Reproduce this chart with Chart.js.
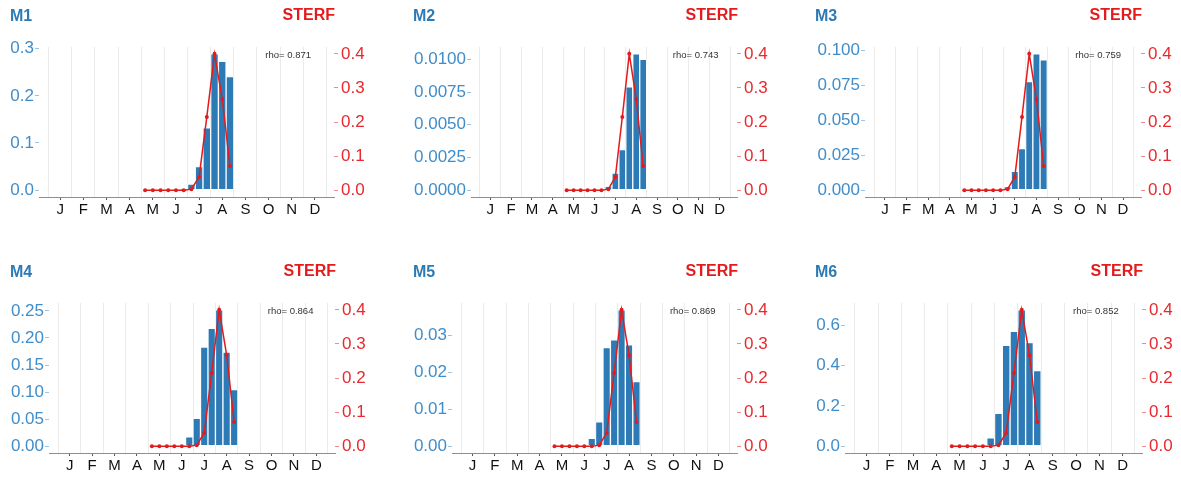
<!DOCTYPE html>
<html>
<head>
<meta charset="utf-8">
<script src="https://cdn.jsdelivr.net/npm/chart.js@4/dist/chart.umd.min.js"></script>
<style>
  html, body { margin: 0; padding: 0; background: #fff; overflow: hidden; width: 1181px; height: 477px; }
  canvas { position: absolute; }
</style>
</head>
<body>
<script>
// month letters on the x axis
const months = ['J', 'F', 'M', 'A', 'M', 'J', 'J', 'A', 'S', 'O', 'N', 'D'];

// dekads (10-day periods), early May to late August
const dekadMonth = [4, 4, 4, 5, 5, 5, 6, 6, 6, 7, 7, 7];
const dekadPart  = [1, 2, 3, 1, 2, 3, 1, 2, 3, 1, 2, 3];

// observed series (right axis, red)
const sterf = [0, 0, 0, 0, 0, 0, 0.003, 0.039, 0.215, 0.4, 0.267, 0.071];

// model series (left axis, blue bars)
const m1 = [0, 0, 0, 0, 0, 0.003, 0.013, 0.05, 0.132, 0.289, 0.273, 0.241];
const m2 = [0, 0, 0, 0, 0, 0, 0.0003, 0.0013, 0.0031, 0.0079, 0.01043, 0.0100];
const m3 = [0, 0, 0, 0, 0, 0, 0.0026, 0.0134, 0.0298, 0.0775, 0.0974, 0.0931];
const m4 = [0, 0, 0, 0, 0, 0.0172, 0.0516, 0.183, 0.218, 0.252, 0.174, 0.1044];
const m5 = [0, 0, 0, 0, 0, 0.0021, 0.0066, 0.0267, 0.0288, 0.0369, 0.0274, 0.0175];
const m6 = [0, 0, 0, 0, 0, 0.041, 0.163, 0.5, 0.569, 0.676, 0.513, 0.375];

const rhoValues = ['0.871', '0.743', '0.759', '0.864', '0.869', '0.852'];

// tick values / labels
const m1Ticks = [0, 0.1, 0.2, 0.3];
const m1Labels = ['0.0', '0.1', '0.2', '0.3'];
const m2Ticks = [0, 0.0025, 0.005, 0.0075, 0.01];
const m2Labels = ['0.0000', '0.0025', '0.0050', '0.0075', '0.0100'];
const m3Ticks = [0, 0.025, 0.05, 0.075, 0.1];
const m3Labels = ['0.000', '0.025', '0.050', '0.075', '0.100'];
const m4Ticks = [0, 0.05, 0.1, 0.15, 0.2, 0.25];
const m4Labels = ['0.00', '0.05', '0.10', '0.15', '0.20', '0.25'];
const m5Ticks = [0, 0.01, 0.02, 0.03];
const m5Labels = ['0.00', '0.01', '0.02', '0.03'];
const m6Ticks = [0, 0.2, 0.4, 0.6];
const m6Labels = ['0.0', '0.2', '0.4', '0.6'];
const sterfTicks = [0, 0.1, 0.2, 0.3, 0.4];
const sterfLabels = ['0.0', '0.1', '0.2', '0.3', '0.4'];

const BLUE = '#2c7bb6', BLUE_TXT = '#3f8dca', RED = '#e41a1c', RED_TXT = '#e8292f';
const FONT = "'Liberation Sans', Arial, sans-serif";

const panels = [
  { name: 'M1', vals: m1, ticks: m1Ticks, labels: m1Labels, rho: rhoValues[0], left: 10,  top: 0,   plotLeft: 39,  plotRight: 334 },
  { name: 'M2', vals: m2, ticks: m2Ticks, labels: m2Labels, rho: rhoValues[1], left: 413, top: 0,   plotLeft: 471, plotRight: 737 },
  { name: 'M3', vals: m3, ticks: m3Ticks, labels: m3Labels, rho: rhoValues[2], left: 815, top: 0,   plotLeft: 865, plotRight: 1141 },
  { name: 'M4', vals: m4, ticks: m4Ticks, labels: m4Labels, rho: rhoValues[3], left: 10,  top: 256, plotLeft: 49,  plotRight: 335 },
  { name: 'M5', vals: m5, ticks: m5Ticks, labels: m5Labels, rho: rhoValues[4], left: 413, top: 256, plotLeft: 452, plotRight: 737 },
  { name: 'M6', vals: m6, ticks: m6Ticks, labels: m6Labels, rho: rhoValues[5], left: 815, top: 256, plotLeft: 845, plotRight: 1142 }
];

const dekadX = dekadMonth.map((m, i) => m + (dekadPart[i] - 0.5) / 3);
const xTicks = [];
for (let v = 0; v <= 12; v += 0.5) xTicks.push(v);

const CH = 227, PLOT_TOP = 47, PLOT_BOTTOM = 197, RIGHT_W = 40;

function drawPanel(p) {
  const canvas = document.createElement('canvas');
  const w = p.plotRight - p.left + RIGHT_W;
  canvas.width = w; canvas.height = CH;
  canvas.style.left = p.left + 'px';
  canvas.style.top = p.top + 'px';
  canvas.style.width = w + 'px';
  canvas.style.height = CH + 'px';
  document.body.appendChild(canvas);

  const maxBar = Math.max(...p.vals);

  const textPlugin = {
    id: 'panelText',
    afterDraw(chart) {
      const ctx = chart.ctx;
      ctx.save();
      ctx.textBaseline = 'middle';
      ctx.font = 'bold 16px ' + FONT;
      ctx.fillStyle = BLUE;
      ctx.textAlign = 'left';
      ctx.fillText(p.name, 0, 17);
      ctx.fillStyle = RED;
      ctx.textAlign = 'right';
      ctx.fillText('STERF', chart.chartArea.right + 1, 16);
      ctx.font = '9.5px ' + FONT;
      ctx.fillStyle = '#333';
      ctx.textAlign = 'center';
      ctx.fillText('rho= ' + p.rho, chart.scales.x.getPixelForValue(10.35), chart.scales.y2.getPixelForValue(0.4) + 2);
      ctx.restore();
    }
  };

  new Chart(canvas, {
    data: {
      datasets: [
        {
          type: 'line',
          data: dekadX.map((x, i) => ({ x: x, y: sterf[i] })),
          yAxisID: 'y2',
          borderColor: RED,
          backgroundColor: RED,
          borderWidth: 1.5,
          pointRadius: 2,
          pointBorderWidth: 0,
          pointBackgroundColor: RED,
          order: 0
        },
        {
          type: 'bar',
          data: dekadX.map((x, i) => ({ x: x, y: p.vals[i] })),
          yAxisID: 'y',
          backgroundColor: BLUE,
          borderColor: 'rgba(255,255,255,0.6)',
          borderWidth: 1,
          borderSkipped: false,
          categoryPercentage: 1,
          barPercentage: 1,
          order: 1
        }
      ]
    },
    options: {
      responsive: false,
      devicePixelRatio: 1,
      animation: false,
      layout: { padding: { top: PLOT_TOP, left: 0, right: 0, bottom: 0 } },
      plugins: { legend: { display: false }, tooltip: { enabled: false } },
      scales: {
        x: {
          type: 'linear',
          offset: false,
          min: -0.42,
          max: 12.33,
          afterBuildTicks: ax => { ax.ticks = xTicks.map(v => ({ value: v })); },
          afterFit: ax => { ax.height = CH - PLOT_BOTTOM; },
          ticks: {
            autoSkip: false, maxRotation: 0, minRotation: 0, padding: 1,
            color: '#111', font: { family: FONT, size: 15 },
            callback: v => Number.isInteger(v) ? '' : months[Math.floor(v)]
          },
          grid: {
            offset: false,
            color: c => (c.tick && Number.isInteger(c.tick.value)) ? '#ebebeb' : 'rgba(0,0,0,0)',
            tickColor: c => (c.tick && Number.isInteger(c.tick.value)) ? 'rgba(0,0,0,0)' : '#555',
            tickLength: 3,
            lineWidth: 1
          },
          border: { display: true, color: '#8f8f8f', width: 1 }
        },
        y: {
          position: 'left',
          min: -0.05 * maxBar,
          max: 1.05 * maxBar,
          afterBuildTicks: ax => { ax.ticks = p.ticks.map(v => ({ value: v })); },
          afterFit: ax => { ax.width = p.plotLeft - p.left; },
          ticks: {
            padding: 1, color: BLUE_TXT, font: { family: FONT, size: 17 },
            callback: (v, i) => p.labels[i]
          },
          grid: { drawOnChartArea: false, tickLength: 4, tickColor: '#9cc3e3' },
          border: { display: false }
        },
        y2: {
          position: 'right',
          min: -0.02,
          max: 0.42,
          afterBuildTicks: ax => { ax.ticks = sterfTicks.map(v => ({ value: v })); },
          afterFit: ax => { ax.width = RIGHT_W; },
          ticks: {
            padding: 3, color: RED_TXT, font: { family: FONT, size: 17 },
            callback: (v, i) => sterfLabels[i]
          },
          grid: { drawOnChartArea: false, tickLength: 4, tickColor: '#ef8a8d' },
          border: { display: false }
        }
      }
    },
    plugins: [textPlugin]
  });
}

panels.forEach(drawPanel);
</script>
</body>
</html>
